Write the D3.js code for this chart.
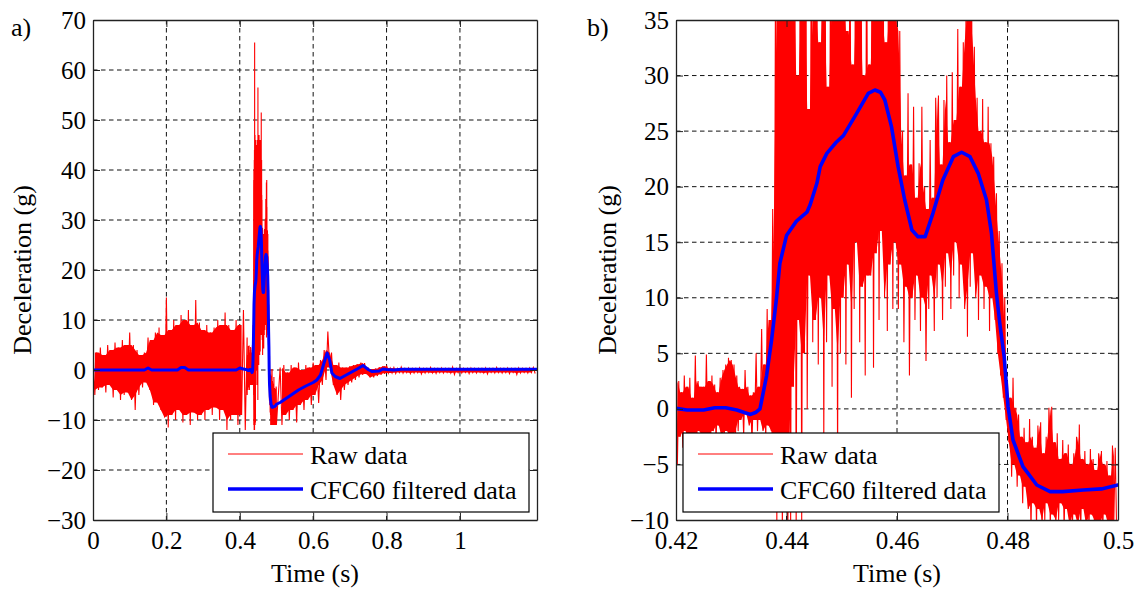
<!DOCTYPE html>
<html>
<head>
<meta charset="utf-8">
<script src="https://cdn.jsdelivr.net/npm/d3@7"></script>
<style>
  body { margin: 0; background: #fff; }
  svg { display: block; font-family: "Liberation Serif", "Times New Roman", serif; }
</style>
</head>
<body>
<svg id="chart" width="1141" height="592"></svg>
<script>
// raw accelerometer trace, read as peak/valley pairs
// 0.00 .. 0.41 s, one pair every 0.01 s
const rawEarlyHi = [4, 3.5, 4.5, 3, 5, 4, 5.5, 4.5, 6, 5,
    7.5, 5, 4, 3, 3.5, 6.5, 6, 7.5, 8.5, 7,
    14.5, 8, 10, 9, 11, 10, 12, 9, 14, 9.5,
    8, 9, 7.5, 8.5, 10, 9, 11.5, 9, 8, 10,
    9, 12];
const rawEarlyLo = [-5, -4, -3.5, -4.5, -3, -5.5, -4, -6, -5, -4.5,
    -6, -8, -5, -3.5, -2.5, -4, -7, -6.5, -8, -9.5,
    -11.5, -9, -10, -8, -10.5, -9, -11, -8.5, -10, -9,
    -10, -8, -9, -7.5, -10, -8, -12, -10, -9, -11,
    -9, -12];
// 0.4200 .. 0.4995 s, one pair every 0.0005 s
const rawImpactHi = [6.5, 2.5, 1.5, 3.0, 2.0, 2.8, 1.0, 4.8, 2.5, 2.0,
    2.0, 4.9, 2.5, 3.0, 2.2, 1.5, 2.8, 3.5, 4.0, 4.6,
    4.4, 4.0, 3.0, 2.0, 1.8, 3.5, 2.0, 1.2, 1.5, 5.0,
    2.0, 7.2, 4.0, 9.0, 8.0, 18.0, 38.0, 40.0, 36.0, 42.0,
    44, 65.5, 40, 47, 30, 45, 38, 46, 27, 44,
    36, 42, 33, 45, 40, 29, 46, 38, 44, 56.5,
    40, 44, 34, 46, 31, 47, 39, 42, 30, 45,
    31, 46, 38, 43, 36, 41, 33, 51.5, 37, 42,
    35, 34, 25, 21, 28.4, 22, 27.2, 19, 22.1, 27.2,
    20, 18, 24.2, 19, 28, 28.2, 22, 27.8, 30, 24,
    30.3, 26, 34.2, 29, 33, 37.5, 36, 38, 32.6, 28,
    25, 27.9, 24, 27.2, 23.9, 22.7, 19.4, 16, 13.1, 10,
    2.5, 1.0, 2.8, 0.1, -0.5, -2.5, -1.7, -3.0, -0.9, -2.5,
    -3.5, -1.5, -1.2, -4.0, -2.5, 0.1, 0.2, -3.0, -2.2, -4.5,
    -2.8, -4.0, -3.2, -5.0, -4.0, -2.5, -1.4, -4.5, -3.8, -5.0,
    -3.6, -4.5, -5.5, -4.0, -3.8, -5.0, -4.7, -6.0, -3.3, -3.5];
const rawImpactLo = [-5.0, -2.5, -3.5, -2.0, -4.0, -3.0, -2.5, -3.5, -2.0, -3.0,
    -2.5, -3.0, -4.0, -2.0, -3.0, -1.5, -3.0, -2.5, -2.0, -3.0,
    -2.5, -3.0, -2.0, -1.0, -2.5, -0.5, -1.5, -3.0, -1.0, -2.0,
    -1.0, -2.0, -3.0, -1.5, -2.0, -5.0, -11.0, -8.0, -12.0, -6.0,
    -12, -10.5, 2, -11, 8, -10.5, 5, 0, 12, 6,
    8, 4, 10, -3, 6, 12, 2, 9, -6, 5,
    10, 4, 13, 1, 9, 15, 6, 11, 3, 12,
    12, 3.7, 14, 8, 16, 10, 7, 13, 9, 15,
    9, 13, 6, 11, 3, 10, 8, 12, 7, 10,
    4.3, 9, 12, 7, 10, 13, 8, 11, 14, 9,
    12, 15, 10, 13, 9, 6.5, 11, 14, 10, 8,
    12, 9, 11, 7, 10, 8, 5, 3, 1, -1,
    -3, -6.1, -5, -7, -6, -8.5, -7, -9, -11, -8.5,
    -10.5, -9, -11, -10, -8.5, -11, -9.5, -11, -10, -8.5,
    -11, -9, -10.5, -11, -9.5, -10.5, -11, -9, -10.5, -11,
    -9.5, -11, -10, -10.5, -11, -9.5, -10.5, -11, -10, -11];
// 0.51 .. 1.20 s, one pair every 0.01 s
const rawLateHi = [0.5, 1.0, -0.5, 1.0, 0.5, 1.5, 0.0, 1.0, 0.5, 1.5,
    1.0, 2.0, 4.0, 7.7, 3.5, 1.0, 1.5, 0.5, 0.5, 0.8,
    1.0, 1.2, 1.5, 1.4, 0.5, 0.2, 0.3, 0.6, 0.8, 0.9,
    0.4, 0.5, 0.3, 0.6, 0.3, 0.4, 0.3, 0.3, 0.4, 0.3,
    0.3, 0.5, 0.3, 0.3, 0.4, 0.3, 0.3, 0.6, 0.3, 0.4,
    0.3, 0.3, 0.4, 0.3, 0.3, 0.3, 0.4, 0.3, 0.3, 0.5,
    0.3, 0.3, 0.4, 0.3, 0.3, 0.4, 0.3, 0.3, 0.4, 0.5];
const rawLateLo = [-11, -9, -10, -8, -10.5, -7, -8, -6, -7, -5,
    -6.6, -3, -2, 0.5, -3, -5, -6, -4, -3, -2.5,
    -2, -1.5, -1.0, -0.8, -1.5, -1.5, -1.2, -1.0, -0.8, -0.6,
    -0.6, -0.7, -0.5, -0.6, -0.5, -0.7, -0.6, -0.5, -0.8, -0.6,
    -0.5, -0.6, -0.7, -0.5, -0.6, -0.5, -0.6, -0.9, -0.5, -0.6,
    -0.5, -0.7, -0.5, -0.6, -0.5, -0.6, -0.8, -0.5, -0.6, -0.5,
    -0.6, -0.5, -0.7, -0.5, -0.9, -0.6, -0.5, -0.6, -0.5, -0.7];

// CFC60 filtered trace
const filtT = [0, 0.14, 0.15, 0.16, 0.23, 0.24, 0.25, 0.26, 0.39, 0.40, 0.41,
    0.4200, 0.4220, 0.4250, 0.4270, 0.4290, 0.4310, 0.4325, 0.4335, 0.4345, 0.4352,
    0.4364, 0.4373, 0.4382, 0.4388, 0.4400, 0.4418, 0.4437, 0.4443, 0.4455, 0.4461,
    0.4473, 0.4490, 0.4503, 0.4527, 0.4548, 0.4560, 0.4570, 0.4578, 0.4590, 0.4602,
    0.4614, 0.4627, 0.4638, 0.4651, 0.4665, 0.4683, 0.4702, 0.4717, 0.4732, 0.4747,
    0.4762, 0.4771, 0.4780, 0.4786, 0.4794, 0.4801, 0.4810, 0.4828, 0.4853, 0.4877,
    0.4900, 0.4937, 0.4970, 0.5000, 0.51, 0.52, 0.54, 0.56, 0.58, 0.60,
    0.61, 0.62, 0.63, 0.638, 0.645, 0.651, 0.66, 0.673, 0.69, 0.70,
    0.72, 0.736, 0.75, 0.76, 0.78, 0.79, 0.80, 0.82, 0.84, 1.21];
const filtV = [0, 0, 0.4, 0, 0, 0.5, 0.5, 0, 0, 0.4, 0.2,
    0.05, -0.1, -0.1, 0.1, 0.1, -0.1, -0.35, -0.5, -0.3, 0.0,
    3.0, 6.2, 10.0, 13.1, 15.6, 16.9, 17.7, 18.4, 20.3, 21.8,
    23.0, 24.0, 24.6, 26.6, 28.4, 28.7, 28.5, 27.8, 25.4, 21.8,
    18.8, 16.1, 15.5, 15.5, 17.6, 20.6, 22.7, 23.1, 22.7, 21.2,
    18.8, 15.8, 10.4, 7.7, 4.7, 0.2, -2.8, -5.2, -6.85, -7.45,
    -7.45, -7.3, -7.2, -6.85, -6.5, -6, -5, -4, -3.2, -2.5,
    -2, -1, 1.5, 3.4, 2, -0.6, -1.3, -1.7, -1.0, -0.6,
    0.2, 0.9, 0.1, -0.3, -0.2, 0.2, 0.1, 0.0, 0.15, 0.15];

// ticks
const ticksA_x = [0, 0.2, 0.4, 0.6, 0.8, 1];
const ticksA_y = [-30, -20, -10, 0, 10, 20, 30, 40, 50, 60, 70];
const ticksB_x = [0.42, 0.44, 0.46, 0.48, 0.5];
const ticksB_y = [-10, -5, 0, 5, 10, 15, 20, 25, 30, 35];

const legendNames = ["Raw data", "CFC60 filtered data"];

// build series
const segments = [
    {t0: 0, step: 0.01, hi: rawEarlyHi, lo: rawEarlyLo},
    {t0: 0.42, step: 0.0005, hi: rawImpactHi, lo: rawImpactLo},
    {t0: 0.51, step: 0.01, hi: rawLateHi, lo: rawLateLo}
];
const zigzag = s => s.hi.flatMap((h, i) => [[s.t0 + i * s.step, h], [s.t0 + (i + 0.5) * s.step, s.lo[i]]]);
const raw = segments.flatMap(zigzag);
// solid core where neighbouring swings overlap
const core = s => s.hi.slice(0, -1).map((h, i) => ({
    t: s.t0 + (i + 0.5) * s.step,
    top: Math.min(h, s.hi[i + 1]),
    bottom: Math.max(s.lo[i], s.lo[i + 1])
}));
const filtered = d3.zip(filtT, filtV);

const svg = d3.select("#chart");
const plotTop = 20, plotBottom = 520;
const fmt = d3.format("~g");

const panels = [
    {name: "a", tag: "a)", left: 93, right: 537, xDomain: [0, 1.21], yDomain: [-30, 70],
     xTicks: ticksA_x, yTicks: ticksA_y, tagX: 11, yLabelX: 31, legX: 213, legLine: 228, legText: 310, blueW: 3},
    {name: "b", tag: "b)", left: 676, right: 1118, xDomain: [0.42, 0.5], yDomain: [-10, 35],
     xTicks: ticksB_x, yTicks: ticksB_y, tagX: 587, yLabelX: 616, legX: 683, legLine: 698, legText: 780, blueW: 3.6}
];

panels.forEach(p => {
    const x = d3.scaleLinear().domain(p.xDomain).range([p.left, p.right]);
    const y = d3.scaleLinear().domain(p.yDomain).range([plotBottom, plotTop]);
    const g = svg.append("g").attr("class", "panel_" + p.name);

    g.append("clipPath").attr("id", "clip_" + p.name)
        .append("rect")
        .attr("x", p.left).attr("y", plotTop)
        .attr("width", p.right - p.left).attr("height", plotBottom - plotTop);

    // gridlines
    const grid = g.append("g")
        .style("stroke", "#111")
        .style("stroke-width", 1)
        .style("stroke-dasharray", "4.5,3.5");
    grid.selectAll("line.gx")
        .data(p.xTicks.filter(d => d > p.xDomain[0] && d < p.xDomain[1]))
        .join("line").attr("class", "gx")
        .attr("x1", d => x(d)).attr("x2", d => x(d))
        .attr("y1", plotTop).attr("y2", plotBottom);
    grid.selectAll("line.gy")
        .data(p.yTicks.filter(d => d > p.yDomain[0] && d < p.yDomain[1]))
        .join("line").attr("class", "gy")
        .attr("x1", p.left).attr("x2", p.right)
        .attr("y1", d => y(d)).attr("y2", d => y(d));

    // series
    const data = g.append("g").attr("clip-path", `url(#clip_${p.name})`);
    const area = d3.area()
        .defined(d => d.top > d.bottom)
        .x(d => x(d.t)).y0(d => y(d.bottom)).y1(d => y(d.top));
    data.selectAll("path.core")
        .data(segments.map(core)).join("path")
        .attr("class", "core")
        .attr("d", area)
        .style("fill", "#ff0000");

    const line = d3.line().x(d => x(d[0])).y(d => y(d[1]));
    const rawHere = raw.filter(d => d[0] >= p.xDomain[0] - 0.001 && d[0] <= p.xDomain[1] + 0.001);
    data.append("path")
        .datum(rawHere)
        .attr("d", line)
        .style("fill", "none")
        .style("stroke", "#ff0000")
        .style("stroke-width", 1.1);
    data.append("path")
        .datum(filtered)
        .attr("d", line)
        .style("fill", "none")
        .style("stroke", "#0000ff")
        .style("stroke-width", p.blueW)
        .style("stroke-linejoin", "round");

    // axes, matlab style inward ticks
    const axis_x = d3.axisBottom(x).tickValues(p.xTicks).tickFormat(fmt)
        .tickSizeInner(-7).tickSizeOuter(0).tickPadding(11);
    const axis_y = d3.axisLeft(y).tickValues(p.yTicks).tickFormat(fmt)
        .tickSizeInner(-7).tickSizeOuter(0).tickPadding(7);
    const axis_top = d3.axisTop(x).tickValues(p.xTicks).tickFormat("")
        .tickSizeInner(-7).tickSizeOuter(0);
    const axis_right = d3.axisRight(y).tickValues(p.yTicks).tickFormat("")
        .tickSizeInner(-7).tickSizeOuter(0);

    [
        [axis_x, `translate(0,${plotBottom})`],
        [axis_y, `translate(${p.left},0)`],
        [axis_top, `translate(0,${plotTop})`],
        [axis_right, `translate(${p.right},0)`]
    ].forEach(([ax, tr]) => {
        const a = g.append("g").attr("transform", tr).call(ax);
        a.attr("font-family", null);
        a.selectAll("path.domain").style("stroke", "#222").style("stroke-width", 1.3);
        a.selectAll(".tick line").style("stroke", "#222");
        a.selectAll("text")
            .style("font-family", "'Liberation Serif', 'Times New Roman', serif")
            .style("font-size", "25px")
            .style("fill", "#000");
    });

    // axis labels
    g.append("text")
        .attr("x", (p.left + p.right) / 2).attr("y", 582)
        .attr("text-anchor", "middle")
        .style("font-size", "26px")
        .text("Time (s)");
    g.append("text")
        .attr("transform", `translate(${p.yLabelX},${(plotTop + plotBottom) / 2}) rotate(-90)`)
        .attr("text-anchor", "middle")
        .style("font-size", "26px")
        .text("Deceleration (g)");
    g.append("text")
        .attr("x", p.tagX).attr("y", 36)
        .style("font-size", "26px")
        .text(p.tag);

    // legend
    const leg = g.append("g");
    leg.append("rect")
        .attr("x", p.legX).attr("y", 433)
        .attr("width", 316).attr("height", 79)
        .style("fill", "#fff")
        .style("stroke", "#000")
        .style("stroke-width", 1.2);
    [["#ff0000", 1, 454], ["#0000ff", 3.5, 489]].forEach(([c, w, ly], i) => {
        leg.append("line")
            .attr("x1", p.legLine).attr("x2", p.legLine + 75)
            .attr("y1", ly).attr("y2", ly)
            .style("stroke", c).style("stroke-width", w);
        leg.append("text")
            .attr("x", p.legText).attr("y", ly + 10)
            .style("font-size", "26px")
            .text(legendNames[i]);
    });
});
</script>
</body>
</html>
